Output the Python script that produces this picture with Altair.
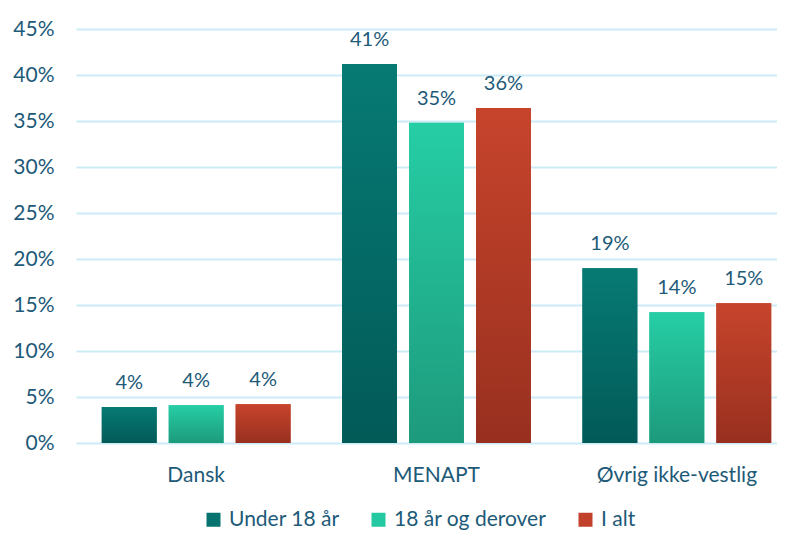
import altair as alt
import pandas as pd

categories = ["Dansk", "MENAPT", "Øvrig ikke-vestlig"]
series = ["Under 18 år", "18 år og derover", "I alt"]
under18 = [0.039, 0.412, 0.190]
adult = [0.041, 0.348, 0.142]
total = [0.042, 0.364, 0.152]
y_ticks = [0, 0.05, 0.10, 0.15, 0.20, 0.25, 0.30, 0.35, 0.40, 0.45]

solid = ["#06736e", "#24c9a2", "#c1412b"]
grad_top = ["#077a74", "#26cea5", "#c7442c"]
grad_bot = ["#025a57", "#1d9a7c", "#98301f"]

TEXT = "#1d5a78"
FONT = "Lato"

rows = []
for i, c in enumerate(categories):
    for s, vals in zip(series, [under18, adult, total]):
        rows.append({"cat": c, "series": s, "value": vals[i]})
df = pd.DataFrame(rows)

x = alt.X("cat:N", sort=categories,
          scale=alt.Scale(range=[0, 721], paddingInner=0, paddingOuter=0),
          axis=alt.Axis(title=None, labelAngle=0, labelFontSize=21, labelFont=FONT,
                        labelColor=TEXT, labelPadding=21, ticks=False, domain=False,
                        labelFontWeight="normal"))
xo = alt.XOffset("series:N", sort=series,
                 scale=alt.Scale(domain=series, paddingInner=0.18, paddingOuter=0.385))
y = alt.Y("value:Q", scale=alt.Scale(domain=[0, 0.45], nice=False),
          axis=alt.Axis(title=None, format=".0%", values=y_ticks, grid=True,
                        gridColor="#cdebf7", gridWidth=2, ticks=False, domain=False,
                        labelFontSize=21, labelFont=FONT, labelColor=TEXT, labelPadding=22))

base = alt.Chart(df).mark_bar().encode(
    x=x, xOffset=xo, y=y,
    color=alt.Color("series:N", sort=series,
                    scale=alt.Scale(domain=series, range=solid),
                    legend=alt.Legend(title=None, orient="none", direction="horizontal",
                                      legendX=127, legendY=480,
                                      symbolType="square", symbolSize=196,
                                      symbolStrokeWidth=0, labelFontSize=21,
                                      labelFont=FONT, labelColor=TEXT, labelOffset=5,
                                      columnPadding=28, labelLimit=0))
)

layers = [base]
for s, t, b in zip(series, grad_top, grad_bot):
    g = alt.Gradient(gradient="linear",
                     stops=[alt.GradientStop(color=t, offset=0),
                            alt.GradientStop(color=b, offset=1)],
                     x1=0, x2=0, y1=0, y2=1)
    layers.append(
        alt.Chart(df).transform_filter(alt.datum.series == s)
        .mark_bar(fill=g).encode(x=x, xOffset=xo, y=y)
    )

labels = alt.Chart(df).mark_text(dy=-14, baseline="bottom", fontSize=20, font=FONT,
                                 color=TEXT).encode(
    x=x, xOffset=xo, y=y, text=alt.Text("value:Q", format=".0%")
)
layers.append(labels)

chart = alt.layer(*layers).properties(
    width=701, height=414,
    autosize=alt.AutoSizeParams(type="none"),
    padding={"left": 68, "top": 21, "right": 0, "bottom": 88},
).configure_view(stroke=None)

chart.save("out.html", embed_options={"renderer": "svg", "actions": False})
